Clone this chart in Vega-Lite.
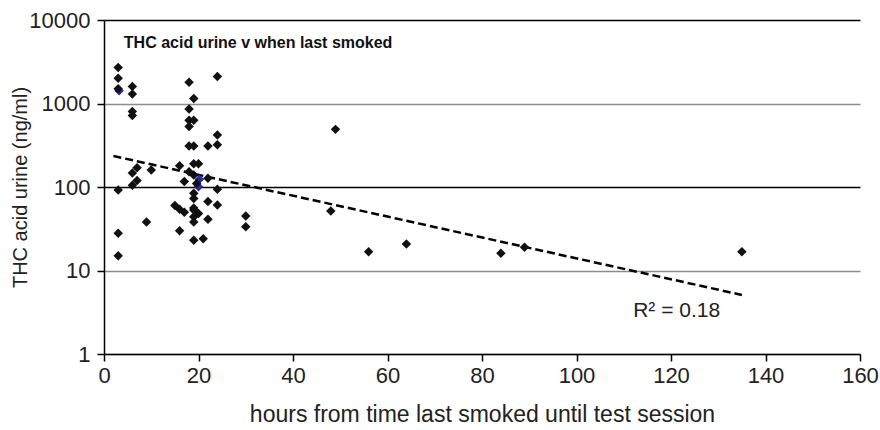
{
  "$schema": "https://vega.github.io/schema/vega-lite/v6.json",
  "autosize": "none",
  "width": 756,
  "height": 334,
  "padding": {"left": 104, "top": 20, "right": 20, "bottom": 76},
  "background": "white",
  "config": {
    "view": {"stroke": null},
    "font": "Liberation Sans",
    "axis": {
      "domainColor": "black",
      "domainWidth": 1.5,
      "tickColor": "black",
      "tickWidth": 1.5,
      "tickSize": 7,
      "labelFlush": false,
      "labelFont": "Liberation Sans",
      "labelFontSize": 22,
      "labelColor": "#222",
      "titleFont": "Liberation Sans",
      "titleFontSize": 22,
      "titleFontWeight": "normal",
      "titleColor": "#222"
    }
  },
  "datasets": {
    "samples": [
      {"hours": 3, "thc": 2700, "series": "subject"},
      {"hours": 3.2, "thc": 1420, "series": "mean"},
      {"hours": 20.2, "thc": 124, "series": "mean"},
      {"hours": 20, "thc": 101, "series": "mean"},
      {"hours": 3, "thc": 2000, "series": "subject"},
      {"hours": 3, "thc": 1500, "series": "subject"},
      {"hours": 6, "thc": 1600, "series": "subject"},
      {"hours": 6, "thc": 1300, "series": "subject"},
      {"hours": 6, "thc": 800, "series": "subject"},
      {"hours": 6, "thc": 720, "series": "subject"},
      {"hours": 3, "thc": 92, "series": "subject"},
      {"hours": 6, "thc": 147, "series": "subject"},
      {"hours": 7, "thc": 170, "series": "subject"},
      {"hours": 6, "thc": 105, "series": "subject"},
      {"hours": 7, "thc": 120, "series": "subject"},
      {"hours": 10, "thc": 160, "series": "subject"},
      {"hours": 9, "thc": 38, "series": "subject"},
      {"hours": 3, "thc": 28, "series": "subject"},
      {"hours": 3, "thc": 15, "series": "subject"},
      {"hours": 18, "thc": 1800, "series": "subject"},
      {"hours": 24, "thc": 2100, "series": "subject"},
      {"hours": 19, "thc": 1150, "series": "subject"},
      {"hours": 18, "thc": 860, "series": "subject"},
      {"hours": 18, "thc": 630, "series": "subject"},
      {"hours": 19, "thc": 630, "series": "subject"},
      {"hours": 18, "thc": 530, "series": "subject"},
      {"hours": 18, "thc": 310, "series": "subject"},
      {"hours": 19, "thc": 310, "series": "subject"},
      {"hours": 22, "thc": 310, "series": "subject"},
      {"hours": 24, "thc": 420, "series": "subject"},
      {"hours": 24, "thc": 320, "series": "subject"},
      {"hours": 16, "thc": 180, "series": "subject"},
      {"hours": 19, "thc": 190, "series": "subject"},
      {"hours": 20, "thc": 190, "series": "subject"},
      {"hours": 18, "thc": 152, "series": "subject"},
      {"hours": 19, "thc": 139, "series": "subject"},
      {"hours": 22, "thc": 127, "series": "subject"},
      {"hours": 17, "thc": 116, "series": "subject"},
      {"hours": 19.6, "thc": 110, "series": "subject"},
      {"hours": 24, "thc": 94, "series": "subject"},
      {"hours": 19, "thc": 84, "series": "subject"},
      {"hours": 19, "thc": 73, "series": "subject"},
      {"hours": 22, "thc": 67, "series": "subject"},
      {"hours": 24, "thc": 61, "series": "subject"},
      {"hours": 15, "thc": 60, "series": "subject"},
      {"hours": 16, "thc": 54, "series": "subject"},
      {"hours": 17, "thc": 50, "series": "subject"},
      {"hours": 19, "thc": 56, "series": "subject"},
      {"hours": 19, "thc": 53, "series": "subject"},
      {"hours": 20, "thc": 48, "series": "subject"},
      {"hours": 19, "thc": 44, "series": "subject"},
      {"hours": 19, "thc": 38, "series": "subject"},
      {"hours": 22, "thc": 41, "series": "subject"},
      {"hours": 30, "thc": 45, "series": "subject"},
      {"hours": 30, "thc": 33.5, "series": "subject"},
      {"hours": 16, "thc": 30, "series": "subject"},
      {"hours": 19, "thc": 23, "series": "subject"},
      {"hours": 21, "thc": 24, "series": "subject"},
      {"hours": 49, "thc": 490, "series": "subject"},
      {"hours": 48, "thc": 51.6, "series": "subject"},
      {"hours": 56, "thc": 16.8, "series": "subject"},
      {"hours": 64, "thc": 20.8, "series": "subject"},
      {"hours": 84, "thc": 16.1, "series": "subject"},
      {"hours": 89, "thc": 19, "series": "subject"},
      {"hours": 135, "thc": 16.8, "series": "subject"}
    ],
    "trend": [
      {"hours": 2, "thc": 235},
      {"hours": 135, "thc": 5.1}
    ],
    "notes": [
      {"label": "THC acid urine v when last smoked", "hours": 4.2, "thc": 4600},
      {"label": "R² = 0.18", "hours": 112, "thc": 2.77}
    ]
  },
  "layer": [
    {
      "data": {"name": "trend"},
      "mark": {"type": "line", "color": "black", "strokeWidth": 2.5, "strokeDash": [8, 4]},
      "encoding": {
        "x": {
          "field": "hours",
          "type": "quantitative",
          "scale": {"domain": [0, 160], "nice": false},
          "axis": {
            "values": [0, 20, 40, 60, 80, 100, 120, 140, 160],
            "grid": false,
            "labelPadding": 4,
            "title": "hours from time last smoked until test session",
            "titleFontSize": 23,
            "titlePadding": 17
          }
        },
        "y": {
          "field": "thc",
          "type": "quantitative",
          "scale": {"type": "log", "domain": [1, 10000], "nice": false},
          "axis": {
            "values": [1, 10, 100, 1000, 10000],
            "format": "d",
            "grid": true,
            "gridWidth": 1.5,
            "gridColor": {
              "condition": {"test": "datum.value === 100 || datum.value === 10000", "value": "black"},
              "value": "#8c8c8c"
            },
            "labelPadding": 7,
            "title": "THC acid urine (ng/ml)",
            "titleFontSize": 20,
            "titleAngle": -90,
            "titleAlign": "center",
            "titleBaseline": "middle",
            "titleX": -84,
            "titleY": 167
          }
        }
      }
    },
    {
      "data": {"name": "samples"},
      "mark": {"type": "point", "shape": "diamond", "filled": true, "size": 90, "opacity": 1},
      "encoding": {
        "x": {"field": "hours", "type": "quantitative"},
        "y": {"field": "thc", "type": "quantitative"},
        "color": {
          "field": "series",
          "type": "nominal",
          "scale": {"domain": ["subject", "mean"], "range": ["#111111", "#2a2aa0"]},
          "legend": null
        }
      }
    },
    {
      "data": {"name": "notes"},
      "transform": [{"filter": "datum.hours < 10"}],
      "mark": {"type": "text", "align": "left", "baseline": "alphabetic", "fontSize": 16, "fontWeight": "bold", "color": "#111"},
      "encoding": {
        "x": {"field": "hours", "type": "quantitative"},
        "y": {"field": "thc", "type": "quantitative"},
        "text": {"field": "label"}
      }
    },
    {
      "data": {"name": "notes"},
      "transform": [{"filter": "datum.hours > 10"}],
      "mark": {"type": "text", "align": "left", "baseline": "alphabetic", "fontSize": 21, "color": "#222"},
      "encoding": {
        "x": {"field": "hours", "type": "quantitative"},
        "y": {"field": "thc", "type": "quantitative"},
        "text": {"field": "label"}
      }
    }
  ]
}
